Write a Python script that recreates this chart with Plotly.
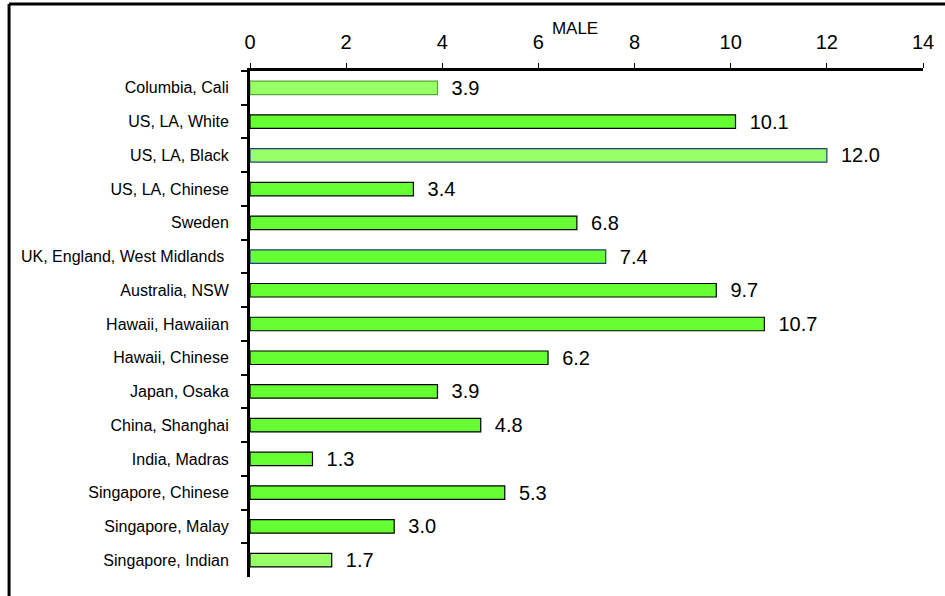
import plotly.graph_objects as go

# data
registries = [
    "Columbia, Cali",
    "US, LA, White",
    "US, LA, Black",
    "US, LA, Chinese",
    "Sweden",
    "UK, England, West Midlands ",
    "Australia, NSW",
    "Hawaii, Hawaiian",
    "Hawaii, Chinese",
    "Japan, Osaka",
    "China, Shanghai",
    "India, Madras",
    "Singapore, Chinese",
    "Singapore, Malay",
    "Singapore, Indian",
]
rates = [3.9, 10.1, 12.0, 3.4, 6.8, 7.4, 9.7, 10.7, 6.2, 3.9, 4.8, 1.3, 5.3, 3.0, 1.7]
x_ticks = [0, 2, 4, 6, 8, 10, 12, 14]

BRIGHT = "#66ff33"
LIGHT = "#99ff66"
fills = [LIGHT, BRIGHT, LIGHT, BRIGHT, BRIGHT, BRIGHT, BRIGHT, BRIGHT,
         BRIGHT, BRIGHT, BRIGHT, BRIGHT, BRIGHT, BRIGHT, LIGHT]
outlines = ["#55aa33", "#000000", "#1f3f7f", "#000000", "#000000", "#1f3f7f",
            "#000000", "#000000", "#000000", "#000000", "#000000", "#000000",
            "#000000", "#000000", "#000000"]

fig = go.Figure()
fig.add_trace(go.Bar(
    x=rates,
    y=registries,
    orientation="h",
    marker=dict(color=fills, line=dict(color=outlines, width=1.2)),
    text=[f"{v:.1f}" for v in rates],
    texttemplate="  %{text}",
    textposition="outside",
    constraintext="none",
    textfont=dict(family="Arial, Liberation Sans", size=20, color="#000"),
    cliponaxis=False,
    width=0.4,
))

fig.update_layout(
    width=945,
    height=596,
    margin=dict(l=250, r=22, t=71, b=19),
    paper_bgcolor="white",
    plot_bgcolor="white",
    showlegend=False,
    font=dict(family="Arial, Liberation Sans", color="#000"),
    title=dict(text="MALE", x=0.483, xref="paper", xanchor="center",
               y=0.953, yanchor="middle", font=dict(size=17)),
)

fig.update_xaxes(
    side="top",
    range=[0, 14],
    tickvals=x_ticks,
    showgrid=False,
    zeroline=False,
    showline=True,
    linecolor="#000",
    linewidth=3,
    ticks="outside",
    ticklen=5,
    tickwidth=1,
    tickcolor="#000",
    tickfont=dict(size=20),
    ticklabelstandoff=6,
)

fig.update_yaxes(
    autorange="reversed",
    showgrid=False,
    showline=True,
    linecolor="#000",
    linewidth=3,
    ticks="outside",
    tickson="boundaries",
    ticklen=6,
    tickwidth=2,
    tickcolor="#000",
    tickfont=dict(size=16),
    ticklabelstandoff=15,
)

# frame lines around the chart (top and left only, as in the original)
fig.add_shape(type="line", xref="paper", yref="paper",
              x0=-0.358, x1=1.04, y0=1.1324, y1=1.1324,
              line=dict(color="#000", width=3))
fig.add_shape(type="line", xref="paper", yref="paper",
              x0=-0.358, x1=-0.358, y0=1.1324, y1=-0.05,
              line=dict(color="#000", width=3))

fig.write_html("out.html", config={"displayModeBar": False},
               post_script="document.body.style.margin='0';")
